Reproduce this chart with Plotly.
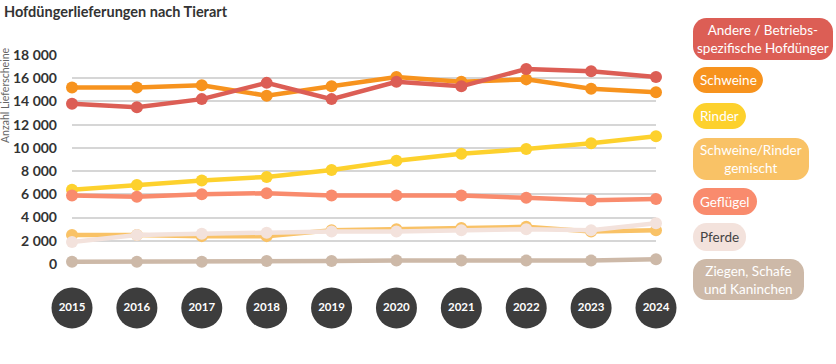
import plotly.graph_objects as go

years = [2015, 2016, 2017, 2018, 2019, 2020, 2021, 2022, 2023, 2024]
year_labels = [str(y) for y in years]

series_names = [
    "Andere / Betriebs-<br>spezifische Hofdünger",
    "Schweine",
    "Rinder",
    "Schweine/Rinder<br>gemischt",
    "Geflügel",
    "Pferde",
    "Ziegen, Schafe<br>und Kaninchen",
]
andere = [13800, 13500, 14200, 15600, 14200, 15700, 15300, 16800, 16600, 16100]
schweine = [15200, 15200, 15400, 14500, 15300, 16100, 15700, 15900, 15100, 14800]
rinder = [6400, 6800, 7200, 7500, 8100, 8900, 9500, 9900, 10400, 11000]
gemischt = [2500, 2500, 2400, 2400, 2900, 3000, 3100, 3200, 2800, 2900]
gefluegel = [5900, 5800, 6000, 6100, 5900, 5900, 5900, 5700, 5500, 5600]
pferde = [1900, 2500, 2600, 2700, 2800, 2800, 2900, 3000, 2900, 3500]
ziegen = [200, 200, 200, 250, 250, 300, 300, 300, 300, 400]

colors = {
    "andere": "#dc5e55",
    "schweine": "#f7931e",
    "rinder": "#fdd12d",
    "gemischt": "#f9c266",
    "gefluegel": "#f98b6d",
    "pferde": "#f3e2dc",
    "ziegen": "#cdb9a8",
}

FONT = "Lato"
W, H = 836, 364
ML, MR, MT, MB = 72, 180, 55, 20
PW = W - ML - MR
PH = H - MT - MB


def px(x):
    return (x - ML) / PW


def py(y):
    return (H - MB - y) / PH


fig = go.Figure()

draw_order = [
    ("ziegen", ziegen),
    ("gemischt", gemischt),
    ("pferde", pferde),
    ("rinder", rinder),
    ("gefluegel", gefluegel),
    ("schweine", schweine),
    ("andere", andere),
]
for key, vals in draw_order:
    fig.add_trace(go.Scatter(
        x=years, y=vals, mode="lines+markers",
        line=dict(color=colors[key], width=4.5),
        marker=dict(color=colors[key], size=12),
        cliponaxis=False, showlegend=False, hoverinfo="skip",
    ))

# year bubbles
fig.add_trace(go.Scatter(
    x=years, y=[0.5] * len(years), yaxis="y2", mode="markers+text",
    marker=dict(color="#3d3d3d", size=41, line=dict(width=0)),
    text=["<b>%s</b>" % t for t in year_labels], textposition="middle center",
    textfont=dict(color="white", size=11.5, family=FONT),
    cliponaxis=False, showlegend=False, hoverinfo="skip",
))

# legend pills (pixel boxes)
pills = [
    ("andere", 693, 18, 833, 60, "white"),
    ("schweine", 693, 67, 763, 93, "white"),
    ("rinder", 693, 103, 746, 129, "white"),
    ("gemischt", 693, 138, 809, 180, "white"),
    ("gefluegel", 693, 188, 757, 215, "white"),
    ("pferde", 693, 223, 746, 251, "#444444"),
    ("ziegen", 693, 259, 804, 300, "white"),
]
keys_to_names = dict(zip(
    ["andere", "schweine", "rinder", "gemischt", "gefluegel", "pferde", "ziegen"],
    series_names))

shapes = []
annotations = []
k = 0.5523
for key, x0, y0, x1, y1, tc in pills:
    r = 13.5
    def P(x, y):
        return "%.5f,%.5f" % (px(x), py(y))
    path = (
        "M" + P(x0 + r, y0) + " L" + P(x1 - r, y0) +
        " C" + P(x1 - r + k * r, y0) + " " + P(x1, y0 + r - k * r) + " " + P(x1, y0 + r) +
        " L" + P(x1, y1 - r) +
        " C" + P(x1, y1 - r + k * r) + " " + P(x1 - r + k * r, y1) + " " + P(x1 - r, y1) +
        " L" + P(x0 + r, y1) +
        " C" + P(x0 + r - k * r, y1) + " " + P(x0, y1 - r + k * r) + " " + P(x0, y1 - r) +
        " L" + P(x0, y0 + r) +
        " C" + P(x0, y0 + r - k * r) + " " + P(x0 + r - k * r, y0) + " " + P(x0 + r, y0) + " Z"
    )
    shapes.append(dict(type="path", xref="paper", yref="paper", path=path,
                       fillcolor=colors[key], line=dict(width=0), layer="above"))
    annotations.append(dict(
        xref="paper", yref="paper", x=px((x0 + x1) / 2), y=py((y0 + y1) / 2),
        xanchor="center", yanchor="middle", showarrow=False,
        text=keys_to_names[key], font=dict(family=FONT, size=13.5, color=tc),
        align="center",
    ))

annotations.append(dict(
    xref="paper", yref="paper", x=px(2), y=py(11), xanchor="left", yanchor="middle",
    showarrow=False, text="<b>Hofdüngerlieferungen nach Tierart</b>",
    font=dict(family=FONT, size=14.5, color="#333333"),
))
annotations.append(dict(
    xref="paper", yref="paper", x=px(5), y=py(95), xanchor="center", yanchor="middle",
    showarrow=False, text="Anzahl Lieferscheine", textangle=-90,
    font=dict(family=FONT, size=10.5, color="#666666"),
))

fig.update_layout(
    width=W, height=H,
    margin=dict(l=ML, r=MR, t=MT, b=MB),
    paper_bgcolor="white", plot_bgcolor="white",
    separators=", ",
    font=dict(family=FONT, color="#333333"),
    xaxis=dict(range=[2015, 2024], showgrid=False, zeroline=False,
               showticklabels=False, showline=False, ticks=""),
    yaxis=dict(domain=[(H - MB - 264) / PH, 1], range=[0, 18000], dtick=2000,
               tickformat=",d", showgrid=True, gridcolor="#d6d6d6", gridwidth=1.5,
               zeroline=False, showline=False, ticks="",
               tickfont=dict(family=FONT, size=14, color="#333333", weight="bold"),
               ticklabelstandoff=14),
    yaxis2=dict(domain=[0, 0.25], range=[0, 1], visible=False, anchor="x"),
    shapes=shapes, annotations=annotations,
)

fig.write_html("out.html", config={"displayModeBar": False},
               post_script="document.body.style.margin='0';document.body.style.padding='0';")
